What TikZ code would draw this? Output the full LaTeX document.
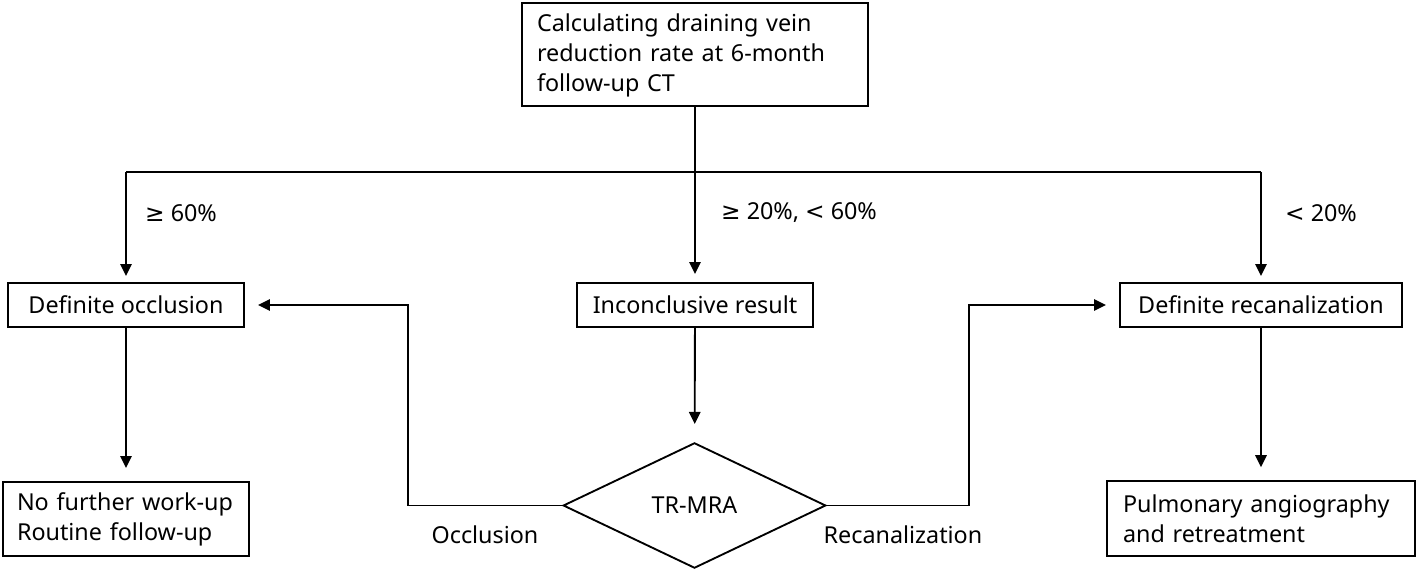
\documentclass[tikz,border=0pt]{standalone}
\usepackage{fontspec}
\setmainfont{Noto Sans}
\newfontfamily\symf{DejaVu Sans}
\usetikzlibrary{shapes.geometric}
\usetikzlibrary{arrows.meta}
\tikzset{
  box/.style={draw, line width=1.4pt, inner sep=0pt, font=\fontsize{17.5}{22.5}\selectfont},
  lbl/.style={font=\fontsize{17.5}{22.5}\selectfont},
  arr/.style={-{Triangle[length=9pt,width=8.5pt]}}
}
\begin{document}
\begin{tikzpicture}[x=0.75pt,y=-0.75pt,line width=1.4pt]
  \useasboundingbox (0,0) rectangle (1418,573);
  \node[box, text width=237pt, inner xsep=11.25pt, minimum height=77pt, align=left] (calc) at (695,54.5)
    {\rule{0pt}{15pt}Calculating draining vein\\reduction rate at 6-month\\follow-up CT};
  \node[box, minimum width=177pt, minimum height=33pt] (occl) at (126,305) {Definite occlusion};
  \node[box, minimum width=177pt, minimum height=33pt] (inconc) at (695,305) {Inconclusive result};
  \node[box, minimum width=211.5pt, minimum height=33pt] (recan) at (1261,305) {Definite recanalization};
  \node[box, text width=163.5pt, inner xsep=10.5pt, minimum height=55.5pt, align=left] (nofurther) at (126,519)
    {No further work-up\\Routine follow-up};
  \node[box, text width=207pt, inner xsep=12pt, minimum height=56pt, align=left] (pulm) at (1261,518.5)
    {Pulmonary angiography\\and retreatment};
  \node[box, diamond, aspect=2.1, minimum width=197pt, minimum height=94pt] (mra) at (694.5,505.5) {TR-MRA};
  % branches
  \coordinate (hl) at (126,172);
  \coordinate (hr) at (1261,172);
  \draw (calc) -- (calc |- hl);
  \draw (hl) -- (hr);
  \draw[arr, shorten >=4.5pt] (hl) -- (occl);
  \draw[arr, shorten >=6pt] (calc |- hl) -- (inconc);
  \draw[arr, shorten >=4.5pt] (hr) -- (recan);
  \draw[arr, shorten >=13.5pt] (inconc) -- (mra);
  \draw[arr, shorten >=9.75pt] (occl) -- (nofurther);
  \draw[arr, shorten >=9.75pt] (recan) -- (pulm);
  \draw[arr, shorten >=9.75pt] (mra.west) -- ++(-154,0) |- (occl.east);
  \draw[arr, shorten >=9.75pt] (mra.east) -- ++(142,0) |- (recan.west);
  \node[lbl] (p60) at (181,213) {{\symf ≥} 60\%};
  \node[lbl] (p2060) at (799,213) {{\symf ≥} 20\%,  {\symf <} 60\%};
  \node[lbl] (p20) at (1321,213) {{\symf <} 20\%};
  \node[lbl] (occlab) at (485,535) {Occlusion};
  \node[lbl] (reclab) at (903,535) {Recanalization};
\end{tikzpicture}
\end{document}
